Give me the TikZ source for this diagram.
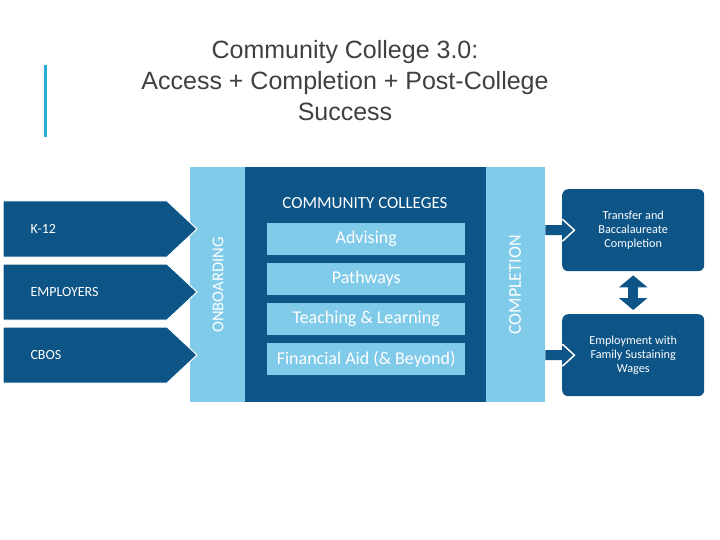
\documentclass[tikz,border=0pt]{standalone}
\usepackage{fontspec}
\setmainfont{Carlito}
\newfontfamily\titlefont{Liberation Sans}
\usetikzlibrary{arrows.meta}
\definecolor{dk}{RGB}{13,84,135}
\definecolor{lt}{RGB}{128,202,234}
\definecolor{accent}{RGB}{41,170,214}
\definecolor{ttl}{RGB}{64,64,64}
\tikzset{
  bar/.style={fill=lt, inner sep=0, anchor=north west},
  inbox/.style={fill=lt, inner sep=0, anchor=north west, minimum width=198pt, minimum height=32pt, text=white, font=\fontsize{18}{20}\selectfont},
  chev/.style={fill=dk, draw=white, line width=1pt},
  chevlab/.style={text=white, anchor=west, font=\fontsize{14}{16}\selectfont},
  outbox/.style={fill=dk, rounded corners=6pt, inner sep=0, anchor=north west, minimum width=142pt, minimum height=82pt, text=white, align=center, font=\fontsize{12.2}{14}\selectfont},
  vlab/.style={rotate=90, text=white}
}
\begin{document}
\begin{tikzpicture}[x=1pt,y=-1pt]
\useasboundingbox (0,0) rectangle (720,540);
\fill[white] (0,0) rectangle (720,540);
% title
\draw[accent, line width=3pt] (45,65) -- (45,137);
\node[font=\titlefont\fontsize{25}{31}\selectfont, text=ttl, align=center] (title) at (345,81) {Community College 3.0:\\Access + Completion + Post-College\\Success};
% bars
\node[bar, minimum width=55pt, minimum height=235pt] (onb) at (190,167) {};
\node[bar, fill=dk, minimum width=241pt, minimum height=235pt] (cc) at (245,167) {};
\node[bar, minimum width=59pt, minimum height=235pt] (comp) at (486,167) {};
\node[vlab, font=\fontsize{16.5}{18}\selectfont] (onbl) at (218,285) {ONBOARDING};
\node[vlab, font=\fontsize{18}{20}\selectfont] (compl) at (515,285) {COMPLETION};
\node[text=white, font=\fontsize{17}{19}\selectfont] (cct) at (365,203) {COMMUNITY COLLEGES};
\node[inbox] (adv) at (267,223) {Advising};
\node[inbox] (path) at (267,263) {Pathways};
\node[inbox] (teach) at (267,303) {Teaching \& Learning};
\node[inbox] (fin) at (267,343) {Financial Aid (\& Beyond)};
% chevrons
\fill[chev] (3,201) -- (167,201) -- (197,229) -- (167,257) -- (3,257) -- cycle;
\fill[chev] (3,264) -- (167,264) -- (197,292) -- (167,320) -- (3,320) -- cycle;
\fill[chev] (3,327) -- (167,327) -- (197,355) -- (167,383) -- (3,383) -- cycle;
\node[chevlab] (k12) at (27,229) {K-12};
\node[chevlab] (emplr) at (27,292) {EMPLOYERS};
\node[chevlab] (cbos) at (27,355) {CBOS};
% outcome boxes
\node[outbox] (tb) at (562,189) {Transfer and\\Baccalaureate\\Completion};
\node[outbox] (emp) at (562,314) {Employment with\\Family Sustaining\\Wages};
% arrows from completion
\foreach \b/\n in {tb/a1, emp/a2}{
  \coordinate (\n) at (comp.east |- \b.west);
  \fill[dk] (\n) ++(0,-5) -- ++(17,0) -- ++(0,-6) -- ++(12,11) -- ++(-12,11) -- ++(0,-6) -- ++(-17,0) -- cycle;
  \draw[white, line width=1.5pt, line join=miter] (\n) ++(17,-11) -- ++(12,11) -- ++(-12,11);
}
% double arrow
\draw[dk, line width=10pt, shorten <=4pt, shorten >=4pt, {Triangle[width=28pt,length=12pt]}-{Triangle[width=28pt,length=12pt]}] (tb.south) -- (emp.north);
\end{tikzpicture}
\end{document}
